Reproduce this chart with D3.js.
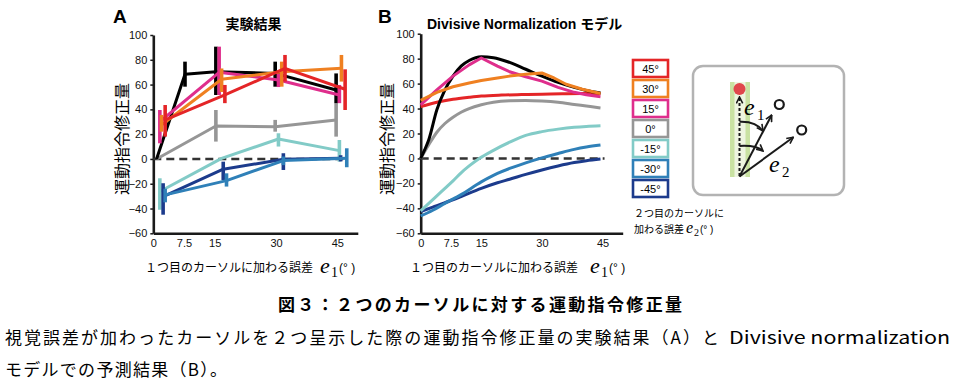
<!DOCTYPE html>
<html><head><meta charset="utf-8">
<script src="https://cdn.jsdelivr.net/npm/d3@7/dist/d3.min.js"></script>
<style>
html,body{margin:0;padding:0;background:#fff;}
svg{display:block;}
.jp{font-family:"Noto Sans CJK JP",sans-serif;}
.math{font-family:"Liberation Serif","DejaVu Serif",serif;font-style:italic;}
</style></head><body>
<svg id="c" width="956" height="388"></svg>
<script>
// ---------- data ----------
const legendLabels = ["45°","30°","15°","0°","-15°","-30°","-45°"];
const legendColors = ["#e42527","#ef8021","#df2e8c","#969696","#82cbc7","#2f80b8","#1c3b8c"];
const yTicks = [-60,-40,-20,0,20,40,60,80,100];
const xTicks = [0,7.5,15,30,45];

// Panel A: experiment (x position, mean, error low, error high)
const expBlack = {x:[0.8,7.75,15.3,29.8,44.7], y:[0,68.3,70.4,69,55.6], lo:[null,58.3,51.6,58.3,45], hi:[null,78.5,90.6,78.5,69]};
const exp45 = {x:[2.9,17.5,32.2,46.9], y:[31.5,51.6,73.1,56.2], lo:[18,45,62.4,39.5], hi:[43.5,59.7,83.9,72.3]};
const exp30 = {x:[2.0,16.7,31.4,46.0], y:[27.4,64.3,70.4,73.1], lo:[22,54,58.3,62.4], hi:[35.5,73,78.5,83.9]};
const exp15 = {x:[1.6,16.1,30.6,45.5], y:[30,69.9,63.7,51.6], lo:[12.6,51.6,58,45], hi:[39.5,90.6,69,59.7]};
const exp0  = {x:[0.8,15.3,29.8,44.7], y:[0,26.6,26,31.5], lo:[null,14,22,18], hi:[null,39.5,31.5,45]};
const expM15 = {x:[1.6,16.7,30.6,45.5], y:[-26.3,0.5,16.1,6.7], lo:[-41,null,10,-2.2], hi:[-15.6,null,20.7,15.3]};
const expM30 = {x:[2.9,17.9,31.8,47.3], y:[-29,-17.5,-1.3,0.5], lo:[-35,-22.3,-5,-6.7], hi:[-24,-11.6,2,8.6]};
const expM45 = {x:[2.4,17.1,31.8,45.8], y:[-30.4,-8.3,-0.3,0.5], lo:[-45,-17,-8.9,-2], hi:[-19.6,-2.2,4.6,3]};

// Panel B: model curves
const modBlackX = [0,1,2,4,6,8,10,12,15,18,22,26,30,34,38,41,44.5];
const modBlackY = [0,7,15,39,55,66,74,78.5,81.5,80.8,77,71.5,66,61,57,54.5,52.5];
const mod15X = [0,4,8,12,15,19,22,26,30,34,38,41,44.5];
const mod15Y = [43,55,66,75,80.5,74,69.5,65.5,62,57,53,51,49.5];
const mod30X = [0,4,8,12,15,19,22,26,30,33,36,40,44.5];
const mod30Y = [46.5,53,57.5,60.5,62.5,64.5,66,67.5,68.5,64.5,59.5,55.5,52];
const mod45X = [0,4,8,12,15,20,25,30,35,40,44.5];
const mod45Y = [41.5,45,47.4,49,50,50.8,51.2,51.5,51.8,52,52];
const mod0X = [0,2,4,6,8,10,12,15,18,22,26,30,34,38,41,44.5];
const mod0Y = [0,11,21,28,33,37,40,43,45,46.2,46.5,46,45,43.3,42,40.5];
const modM15X = [0,2,4,6,8,10,12,14.5,18,22,26,30,34,38,41,44.5];
const modM15Y = [-42,-36,-30,-24,-18,-11.5,-6,0,6.5,13,18.5,21.5,23.5,25,25.7,26.2];
const modM30X = [0,3,6,10,15,19,22,26,30,34,38,41,44.5];
const modM30Y = [-46,-41.5,-36,-29,-18.8,-12,-8,-3.5,0.5,4,7.3,9.2,10.8];
const modM45X = [0,3,6,10,15,19,22,26,30,34,38,41,44.5];
const modM45Y = [-42.5,-39,-35.5,-30.5,-24,-19.5,-16.7,-12.8,-9.2,-6,-3.3,-1.8,-0.5];

// ---------- drawing ----------
const svg = d3.select("#c");
const SANS = '"Liberation Sans",Arial,"Noto Sans CJK JP",sans-serif';
const JP = '"Noto Sans CJK JP",sans-serif';

const xA = d3.scaleLinear().domain([0,50]).range([153.3,357.8]);
const yA = d3.scaleLinear().domain([-60,100]).range([233.3,35]);
const xB = d3.scaleLinear().domain([0,50]).range([420.7,622.7]);
const yB = d3.scaleLinear().domain([-60,100]).range([233.3,33.7]);

function axes(x,y,zeroEnd){
  const gy = svg.append("g").attr("transform",`translate(${x(0)},0)`)
    .call(d3.axisLeft(y).tickValues(yTicks).tickSize(3).tickPadding(3).tickSizeOuter(0));
  gy.attr("font-family",SANS).attr("font-size",11);
  gy.select(".domain").attr("stroke","#1a1a1a").attr("stroke-width",2.6);
  gy.selectAll(".tick line").attr("stroke","#1a1a1a").attr("stroke-width",1.5);
  gy.selectAll("text").attr("fill","#111");
  const gx = svg.append("g").attr("transform",`translate(0,${y(-60)})`)
    .call(d3.axisBottom(x).tickValues(xTicks).tickSize(0).tickPadding(6).tickSizeOuter(0).tickFormat(d=>String(d)));
  gx.attr("font-family",SANS).attr("font-size",11);
  gx.select(".domain").attr("stroke","#1a1a1a").attr("stroke-width",2.6);
  gx.selectAll("text").attr("fill","#111");
  svg.append("line").attr("x1",x(0)).attr("x2",x(zeroEnd)).attr("y1",y(0)).attr("y2",y(0))
    .attr("stroke","#333").attr("stroke-width",2.6).attr("stroke-dasharray","8,5");
}
axes(xA,yA,47.2);
axes(xB,yB,45.5);

// panel A
function expSeries(s,color){
  const line = d3.line().x((d,i)=>xA(s.x[i])).y(d=>yA(d));
  svg.append("path").attr("d",line(s.y)).attr("fill","none").attr("stroke",color)
    .attr("stroke-width",3).attr("stroke-linejoin","round");
  s.x.forEach((xv,i)=>{
    if(s.lo[i]==null) return;
    svg.append("line").attr("x1",xA(xv)).attr("x2",xA(xv)).attr("y1",yA(s.lo[i])).attr("y2",yA(s.hi[i]))
      .attr("stroke",color).attr("stroke-width",3.6);
  });
}
expSeries(exp0,legendColors[3]);
expSeries(expM15,legendColors[4]);
expSeries(expM45,legendColors[6]);
expSeries(expM30,legendColors[5]);
expSeries(expBlack,"#000");
expSeries(exp15,legendColors[2]);
expSeries(exp30,legendColors[1]);
expSeries(exp45,legendColors[0]);

// panel B
function modSeries(xs,ys,color,curve){
  const line = d3.line().x((d,i)=>xB(xs[i])).y(d=>yB(d)).curve(curve);
  svg.append("path").attr("d",line(ys)).attr("fill","none").attr("stroke",color)
    .attr("stroke-width",3).attr("stroke-linejoin","round");
}
modSeries(modM45X,modM45Y,legendColors[6],d3.curveMonotoneX);
modSeries(modM30X,modM30Y,legendColors[5],d3.curveMonotoneX);
modSeries(modM15X,modM15Y,legendColors[4],d3.curveMonotoneX);
modSeries(mod0X,mod0Y,legendColors[3],d3.curveMonotoneX);
modSeries(mod45X,mod45Y,legendColors[0],d3.curveMonotoneX);
modSeries(modBlackX,modBlackY,"#000",d3.curveMonotoneX);
modSeries(mod15X,mod15Y,legendColors[2],d3.curveLinear);
modSeries(mod30X,mod30Y,legendColors[1],d3.curveLinear);

// titles
svg.append("text").attr("x",113).attr("y",23).attr("font-family",SANS).attr("font-weight","bold").attr("font-size",19).text("A");
svg.append("text").attr("x",378).attr("y",23).attr("font-family",SANS).attr("font-weight","bold").attr("font-size",19).text("B");
svg.append("text").attr("x",253.5).attr("y",29).attr("text-anchor","middle").attr("font-family",JP).attr("font-weight","bold").attr("font-size",14).text("実験結果");
svg.append("text").attr("x",427).attr("y",29).attr("font-family",SANS).attr("font-weight","bold").attr("font-size",14).text("Divisive Normalization モデル");

// y labels
[[121,"A"],[386,"B"]].forEach(([cx])=>{
  svg.append("text").attr("transform",`translate(${cx},139) rotate(-90)`).attr("text-anchor","middle")
    .attr("dominant-baseline","central").attr("font-family",JP).attr("font-size",16).text("運動指令修正量");
});

// x labels
function xLabel(x0,eX){
  svg.append("text").attr("x",x0).attr("y",272).attr("font-family",JP).attr("font-size",12).text("１つ目のカーソルに加わる誤差");
  svg.append("text").attr("x",eX).attr("y",273).attr("class","math").attr("font-size",22).text("e");
  svg.append("text").attr("x",eX+11).attr("y",277).attr("font-family","Liberation Serif,serif").attr("font-size",14).text("1");
  svg.append("text").attr("x",eX+19).attr("y",272).attr("font-family",SANS).attr("font-size",12).text("(°  )");
}
xLabel(145,320);
xLabel(410,590);

// legend
legendLabels.forEach((lab,i)=>{
  svg.append("rect").attr("x",633).attr("y",60+20*i).attr("width",35).attr("height",17)
    .attr("fill","#fff").attr("stroke",legendColors[i]).attr("stroke-width",2.6);
  svg.append("text").attr("x",650.5).attr("y",60+20*i+12.8).attr("text-anchor","middle")
    .attr("font-family",SANS).attr("font-size",11).text(lab);
});
svg.append("text").attr("x",634).attr("y",217).attr("font-family",JP).attr("font-size",10).text("２つ目のカーソルに");
svg.append("text").attr("x",634).attr("y",233).attr("font-family",JP).attr("font-size",10).text("加わる誤差");
svg.append("text").attr("x",686).attr("y",233).attr("class","math").attr("font-size",16).text("e");
svg.append("text").attr("x",694).attr("y",236).attr("font-family","Liberation Serif,serif").attr("font-size",10).text("2");
svg.append("text").attr("x",700).attr("y",233).attr("font-family",SANS).attr("font-size",10).text("(°  )");

// diagram
const defs = svg.append("defs");
defs.append("marker").attr("id","ah").attr("viewBox","0 0 10 10").attr("refX",9).attr("refY",5)
  .attr("markerWidth",4).attr("markerHeight",4).attr("orient","auto-start-reverse")
  .append("path").attr("d","M1,1 L9,5 L1,9").attr("fill","none").attr("stroke","#1a1a1a").attr("stroke-width",2);
svg.append("rect").attr("x",693).attr("y",66).attr("width",151).attr("height",129).attr("rx",10)
  .attr("fill","#fff").attr("stroke","#b3b3b3").attr("stroke-width",2.5);
svg.append("rect").attr("x",730).attr("y",82).attr("width",20).attr("height",95).attr("fill","#eef5e0");
svg.append("rect").attr("x",730).attr("y",82).attr("width",4.5).attr("height",95).attr("fill","#c9e2a2");
svg.append("rect").attr("x",745.5).attr("y",82).attr("width",4.5).attr("height",95).attr("fill","#c9e2a2");
svg.append("line").attr("x1",739.5).attr("y1",176).attr("x2",739.5).attr("y2",97)
  .attr("stroke","#1a1a1a").attr("stroke-width",2).attr("stroke-dasharray","3,2").attr("marker-end","url(#ah)");
svg.append("circle").attr("cx",739.5).attr("cy",89).attr("r",6).attr("fill","#e0474c");
svg.append("line").attr("x1",739.5).attr("y1",176.5).attr("x2",771.7).attr("y2",115)
  .attr("stroke","#1a1a1a").attr("stroke-width",2).attr("marker-end","url(#ah)");
svg.append("line").attr("x1",739.5).attr("y1",176.5).attr("x2",793.3).attr("y2",137.3)
  .attr("stroke","#1a1a1a").attr("stroke-width",2).attr("marker-end","url(#ah)");
svg.append("path").attr("d","M739.5,121.7 Q756,121 763,131").attr("fill","none")
  .attr("stroke","#1a1a1a").attr("stroke-width",2).attr("marker-end","url(#ah)");
svg.append("path").attr("d","M739.5,146 Q756,145 763,151").attr("fill","none")
  .attr("stroke","#1a1a1a").attr("stroke-width",2).attr("marker-end","url(#ah)");
svg.append("circle").attr("cx",779.3).attr("cy",104.5).attr("r",4.5).attr("fill","#fff").attr("stroke","#1a1a1a").attr("stroke-width",2.2);
svg.append("circle").attr("cx",801.7).attr("cy",130).attr("r",4.5).attr("fill","#fff").attr("stroke","#1a1a1a").attr("stroke-width",2.2);
svg.append("text").attr("x",744).attr("y",115).attr("class","math").attr("font-size",24).text("e");
svg.append("text").attr("x",757).attr("y",120).attr("font-family","Liberation Serif,serif").attr("font-size",15).text("1");
svg.append("text").attr("x",769).attr("y",172).attr("class","math").attr("font-size",24).text("e");
svg.append("text").attr("x",782).attr("y",177).attr("font-family","Liberation Serif,serif").attr("font-size",15).text("2");

// caption
svg.append("text").attr("x",278).attr("y",311).attr("font-family",JP).attr("font-weight","bold").attr("font-size",17)
  .attr("textLength",404).attr("lengthAdjust","spacing").text("図３：２つのカーソルに対する運動指令修正量");
svg.append("text").attr("x",5).attr("y",344).attr("font-family",JP).attr("font-size",17)
  .attr("textLength",714).attr("lengthAdjust","spacing").text("視覚誤差が加わったカーソルを２つ呈示した際の運動指令修正量の実験結果（A）と");
svg.append("text").attr("x",729).attr("y",344).attr("font-family",JP).attr("font-size",17)
  .attr("textLength",221).attr("lengthAdjust","spacingAndGlyphs").text("Divisive normalization");
svg.append("text").attr("x",5).attr("y",376).attr("font-family",JP).attr("font-size",17)
  .attr("textLength",222).attr("lengthAdjust","spacing").text("モデルでの予測結果（B）。");
</script>
</body></html>
